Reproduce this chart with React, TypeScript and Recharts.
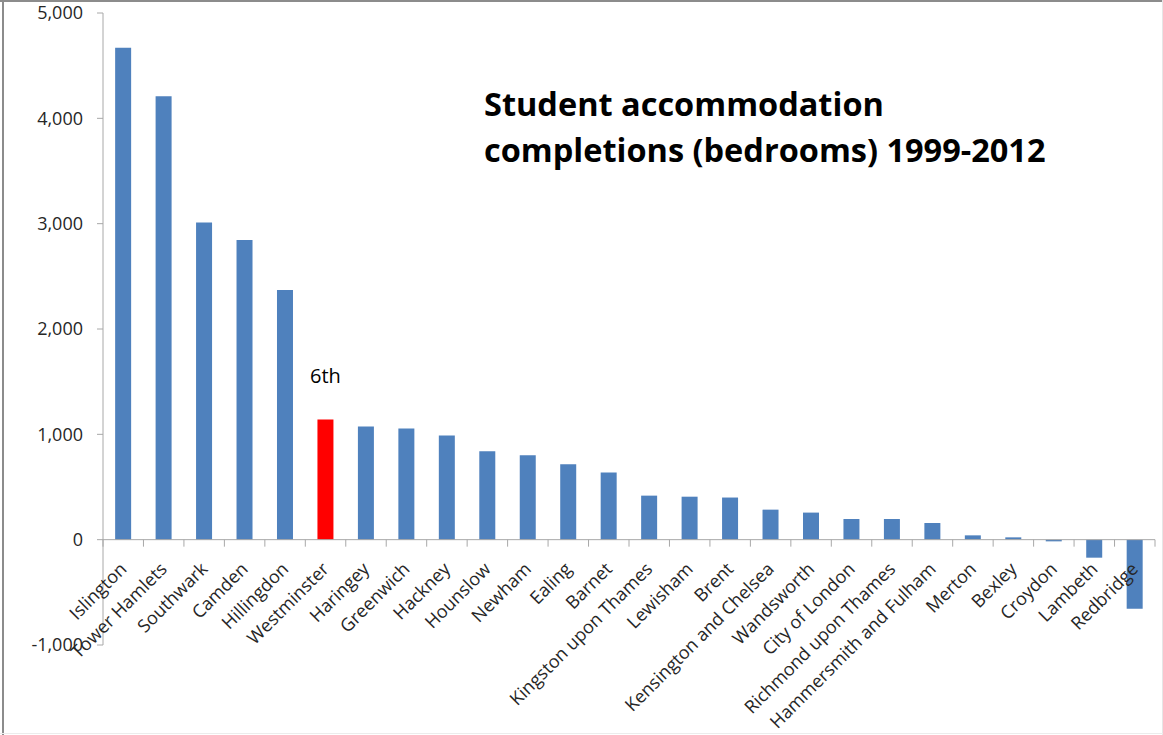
import React from 'react';
import { BarChart, Bar, XAxis, YAxis, Cell, ReferenceLine, LabelList } from 'recharts';

const boroughs = [
  'Islington', 'Tower Hamlets', 'Southwark', 'Camden', 'Hillingdon', 'Westminster',
  'Haringey', 'Greenwich', 'Hackney', 'Hounslow', 'Newham', 'Ealing', 'Barnet',
  'Kingston upon Thames', 'Lewisham', 'Brent', 'Kensington and Chelsea', 'Wandsworth',
  'City of London', 'Richmond upon Thames', 'Hammersmith and Fulham', 'Merton',
  'Bexley', 'Croydon', 'Lambeth', 'Redbridge',
];
const bedrooms = [
  4670, 4210, 3010, 2845, 2370, 1141, 1074, 1055, 989, 839, 801, 716, 637,
  418, 408, 400, 285, 257, 196, 196, 158, 41, 22, -16, -171, -656,
];
const highlightBorough = 'Westminster';
const highlightNote = '6th';
const yTicks = [-1000, 0, 1000, 2000, 3000, 4000, 5000];
const titleLines = ['Student accommodation', 'completions (bedrooms) 1999-2012'];

const BLUE = '#4f81bd';
const RED = '#ff0000';
const AXIS = '#a8a8a8';
const TEXT = '#262626';
const FONT = '"Open Sans", "DejaVu Sans", sans-serif';

const W = 1163;
const H = 735;
const MARGIN = { top: 13, right: 8, left: 0, bottom: 0 };
const Y_AXIS_W = 103;
const X_AXIS_H = 90;
const Y_MIN = yTicks[0];
const Y_MAX = yTicks[yTicks.length - 1];
const PLOT_TOP = MARGIN.top;
const PLOT_BOTTOM = H - MARGIN.bottom - X_AXIS_H;
const PLOT_LEFT = MARGIN.left + Y_AXIS_W;
const PLOT_RIGHT = W - MARGIN.right;
const ZERO_Y = PLOT_TOP + ((PLOT_BOTTOM - PLOT_TOP) * Y_MAX) / (Y_MAX - Y_MIN);
const BAND = (PLOT_RIGHT - PLOT_LEFT) / boroughs.length;

const data = boroughs.map((name, i) => ({
  name,
  value: bedrooms[i],
  note: name === highlightBorough ? highlightNote : '',
}));

const fmt = (v: number) => v.toLocaleString('en-US');

function XTick(props: any) {
  const { x, payload } = props;
  const cx = Number(x);
  const isLast = payload && payload.value === boroughs[boroughs.length - 1];
  return (
    <g>
      <line x1={cx - BAND / 2} x2={cx - BAND / 2} y1={ZERO_Y} y2={ZERO_Y + 7} stroke={AXIS} strokeWidth={1} />
      {isLast && (
        <line x1={cx + BAND / 2} x2={cx + BAND / 2} y1={ZERO_Y} y2={ZERO_Y + 7} stroke={AXIS} strokeWidth={1} />
      )}
      <text
        transform={`translate(${cx},${ZERO_Y + 26}) rotate(-45)`}
        textAnchor="end"
        dy="0.35em"
        fontFamily={FONT}
        fontSize={18}
        fill={TEXT}
      >
        {payload.value}
      </text>
    </g>
  );
}

function NoteLabel(props: any) {
  const { x, y, width, value } = props;
  if (!value) return null;
  return (
    <text
      x={Number(x) + Number(width) / 2}
      y={Number(y) - 36}
      textAnchor="middle"
      fontFamily={FONT}
      fontSize={20}
      fill="#000"
    >
      {value}
    </text>
  );
}

export default function App() {
  return (
    <div style={{ position: 'absolute', left: 0, top: 0, width: W, height: H, background: '#fff', overflow: 'hidden' }}>
      <BarChart width={W} height={H} data={data} margin={MARGIN} barCategoryGap="30%">
        <YAxis
          width={Y_AXIS_W}
          domain={[Y_MIN, Y_MAX]}
          ticks={yTicks}
          allowDataOverflow
          tickFormatter={fmt}
          axisLine={{ stroke: AXIS }}
          tickLine={{ stroke: AXIS }}
          tickSize={6}
          tickMargin={14}
          tick={{ fontFamily: FONT, fontSize: 18, fill: TEXT }}
        />
        <XAxis
          dataKey="name"
          height={X_AXIS_H}
          interval={0}
          axisLine={false}
          tickLine={false}
          tick={<XTick />}
        />
        <ReferenceLine y={0} stroke={AXIS} strokeWidth={1} ifOverflow="extendDomain" />
        <Bar dataKey="value" isAnimationActive={false} fill={BLUE}>
          {data.map((d) => (
            <Cell key={d.name} fill={d.name === highlightBorough ? RED : BLUE} />
          ))}
          <LabelList dataKey="note" content={<NoteLabel />} />
        </Bar>
      </BarChart>
      <svg width={W} height={H} style={{ position: 'absolute', left: 0, top: 0, pointerEvents: 'none' }}>
        {titleLines.map((t, i) => (
          <text key={t} x={484} y={116 + i * 46} fontFamily={FONT} fontWeight="bold" fontSize={32.5} fill="#000">
            {t}
          </text>
        ))}
      </svg>
      <div style={{ position: 'absolute', left: 0, top: 0, width: W, height: 2, background: '#8c8c8c' }} />
      <div style={{ position: 'absolute', left: 2, top: 0, width: 2, height: H, background: '#8c8c8c' }} />
      <div style={{ position: 'absolute', left: W - 1, top: 0, width: 1, height: H, background: '#e6e6e6' }} />
      <div style={{ position: 'absolute', left: 0, top: H - 2, width: W, height: 1, background: '#ececec' }} />
    </div>
  );
}
